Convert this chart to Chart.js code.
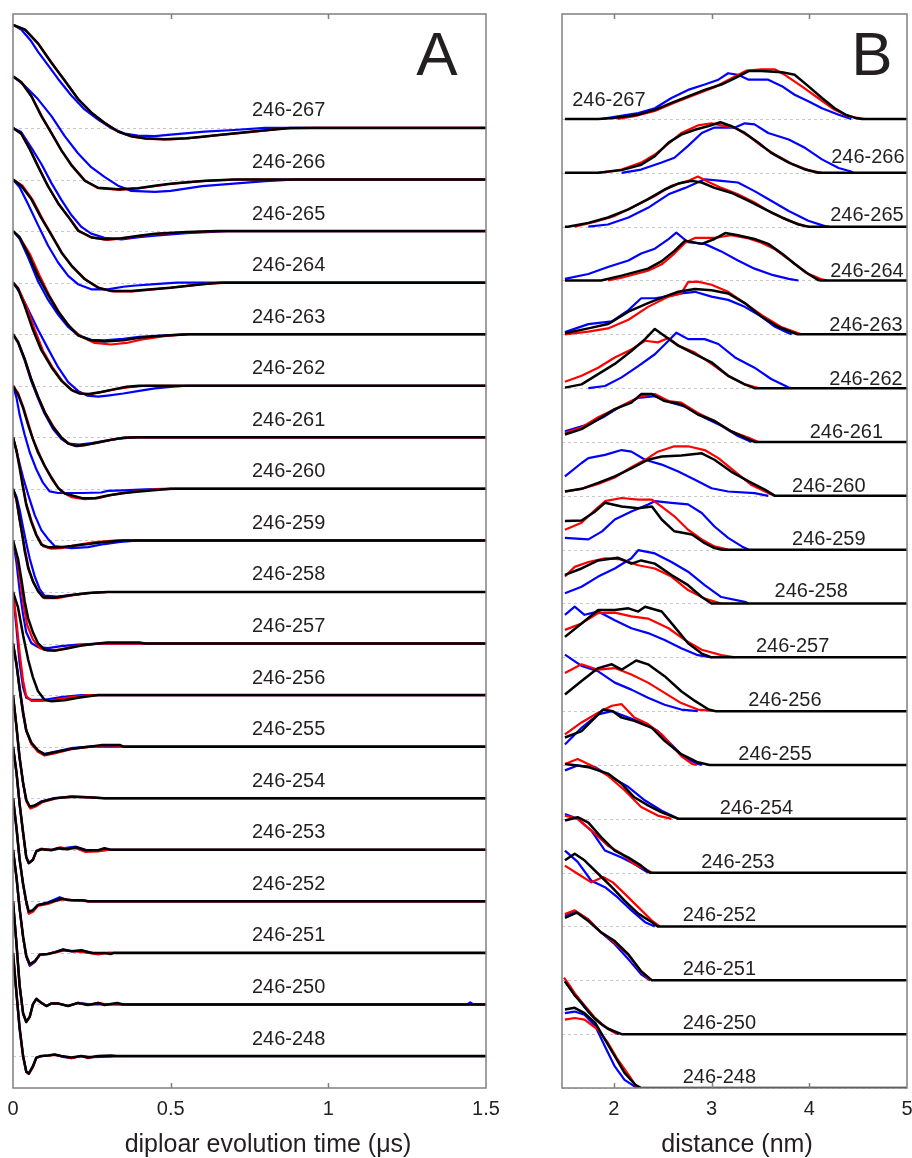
<!DOCTYPE html>
<html>
<head>
<meta charset="utf-8">
<script src="https://cdn.jsdelivr.net/npm/chart.js@4.4.1/dist/chart.umd.min.js"></script>
<style>
  html, body { margin: 0; padding: 0; background: #fff; }
  #wrap { position: relative; width: 912px; height: 1158px; overflow: hidden; }
  #wrap canvas { position: absolute; top: 0; }
</style>
</head>
<body>
<div id="wrap">
  <canvas id="chartA" width="530" height="1158" style="left:0"></canvas>
  <canvas id="chartB" width="400" height="1158" style="left:530px"></canvas>
</div>
<script>
// Spin-label pairs, top to bottom
const pairs = ['246-267','246-266','246-265','246-264','246-263','246-262','246-261','246-260','246-259',
  '246-258','246-257','246-256','246-255','246-254','246-253','246-252','246-251','246-250','246-248'];

// Axis ticks
const ticksA = [0, 0.5, 1, 1.5];
const tickTextA = ['0', '0.5', '1', '1.5'];
const ticksB = [2, 3, 4, 5];
const tickTextB = ['2', '3', '4', '5'];

// ---- Panel A: dipolar evolution traces, [time (us), normalised signal] ----
// k = black, r = red, b = blue
const a267k = [[0,2],[0.037,1.91],[0.079,1.64],[0.12,1.28],[0.164,0.92],[0.206,0.56],[0.248,0.3],[0.29,0.1],[0.333,-0.07],[0.375,-0.16],[0.418,-0.2],[0.48,-0.22],[0.55,-0.2],[0.6,-0.17],[0.645,-0.14],[0.76,-0.07],[0.88,0],[1.5,0]];
const a267r = [[0,2],[0.04,1.9],[0.08,1.64],[0.122,1.27],[0.166,0.9],[0.21,0.54],[0.25,0.29],[0.29,0.1],[0.335,-0.08],[0.38,-0.17],[0.42,-0.21],[0.5,-0.22],[0.56,-0.2],[0.65,-0.14],[0.75,-0.08],[0.86,-0.01],[0.95,0],[1.5,0]];
const a267b = [[0,2],[0.026,1.91],[0.058,1.68],[0.079,1.48],[0.111,1.22],[0.143,0.95],[0.185,0.63],[0.227,0.36],[0.27,0.16],[0.31,0],[0.354,-0.11],[0.396,-0.15],[0.45,-0.16],[0.5,-0.13],[0.555,-0.1],[0.608,-0.07],[0.7,-0.04],[0.8,0],[1.5,0]];

const a266k = [[0,2],[0.026,1.89],[0.058,1.62],[0.09,1.23],[0.122,0.9],[0.153,0.57],[0.185,0.28],[0.227,-0.02],[0.27,-0.16],[0.333,-0.19],[0.396,-0.17],[0.45,-0.12],[0.5,-0.08],[0.6,-0.03],[0.7,0],[1.5,0]];
const a266r = [[0,2],[0.028,1.88],[0.06,1.6],[0.092,1.22],[0.124,0.88],[0.155,0.55],[0.187,0.27],[0.23,-0.03],[0.27,-0.17],[0.34,-0.2],[0.4,-0.17],[0.46,-0.12],[0.52,-0.07],[0.62,-0.02],[0.72,0],[1.5,0]];
const a266b = [[0,2],[0.037,1.82],[0.079,1.56],[0.122,1.23],[0.164,0.84],[0.206,0.51],[0.248,0.24],[0.29,0.05],[0.333,-0.12],[0.375,-0.22],[0.45,-0.24],[0.5,-0.22],[0.6,-0.13],[0.7,-0.08],[0.8,-0.03],[0.9,0],[1.5,0]];

const a265k = [[0,2],[0.026,1.89],[0.053,1.59],[0.079,1.26],[0.111,0.87],[0.143,0.54],[0.175,0.28],[0.206,0.01],[0.248,-0.12],[0.29,-0.16],[0.344,-0.14],[0.4,-0.09],[0.45,-0.05],[0.55,-0.02],[0.65,0],[1.5,0]];
const a265r = [[0,2],[0.028,1.88],[0.055,1.58],[0.081,1.24],[0.113,0.85],[0.145,0.52],[0.178,0.26],[0.21,0],[0.25,-0.13],[0.3,-0.17],[0.35,-0.14],[0.41,-0.09],[0.47,-0.05],[0.57,-0.02],[0.65,0],[1.5,0]];
const a265b = [[0,2],[0.026,1.92],[0.058,1.62],[0.09,1.3],[0.122,0.93],[0.153,0.61],[0.185,0.31],[0.217,0.08],[0.248,-0.05],[0.29,-0.13],[0.344,-0.16],[0.4,-0.12],[0.45,-0.09],[0.55,-0.04],[0.68,0],[1.5,0]];

const a264k = [[0,2],[0.026,1.88],[0.058,1.62],[0.09,1.25],[0.122,0.92],[0.153,0.59],[0.185,0.33],[0.227,0.07],[0.27,-0.1],[0.31,-0.16],[0.375,-0.16],[0.42,-0.14],[0.5,-0.1],[0.6,-0.03],[0.66,0],[1.5,0]];
const a264r = [[0,2],[0.03,1.88],[0.063,1.6],[0.095,1.22],[0.127,0.88],[0.158,0.55],[0.19,0.3],[0.232,0.05],[0.275,-0.11],[0.32,-0.17],[0.38,-0.17],[0.43,-0.14],[0.51,-0.09],[0.6,-0.03],[0.68,0],[1.5,0]];
const a264b = [[0,2],[0.021,1.85],[0.048,1.52],[0.079,1.12],[0.111,0.72],[0.143,0.39],[0.175,0.13],[0.206,-0.03],[0.248,-0.13],[0.3,-0.13],[0.35,-0.08],[0.38,-0.06],[0.45,-0.03],[0.52,0],[1.5,0]];

const a263k = [[0,2],[0.021,1.88],[0.048,1.56],[0.079,1.13],[0.111,0.77],[0.143,0.44],[0.175,0.18],[0.206,-0.02],[0.248,-0.12],[0.29,-0.14],[0.35,-0.12],[0.4,-0.07],[0.45,-0.04],[0.5,-0.02],[0.56,0],[1.5,0]];
const a263r = [[0,2],[0.021,1.88],[0.053,1.56],[0.085,1.13],[0.116,0.74],[0.148,0.41],[0.18,0.14],[0.217,-0.05],[0.259,-0.17],[0.31,-0.2],[0.36,-0.17],[0.41,-0.1],[0.48,-0.04],[0.55,0],[1.5,0]];
const a263b = [[0,2],[0.021,1.85],[0.048,1.49],[0.079,1.03],[0.111,0.67],[0.143,0.38],[0.175,0.14],[0.206,-0.02],[0.248,-0.11],[0.29,-0.12],[0.35,-0.09],[0.4,-0.05],[0.5,-0.02],[0.56,0],[1.5,0]];

const a262k = [[0,2],[0.016,1.88],[0.037,1.55],[0.063,1.09],[0.09,0.69],[0.122,0.36],[0.153,0.1],[0.185,-0.08],[0.21,-0.15],[0.24,-0.16],[0.28,-0.12],[0.32,-0.07],[0.36,-0.02],[0.4,0],[1.5,0]];
const a262r = [[0,2],[0.016,1.9],[0.042,1.55],[0.069,1.09],[0.095,0.68],[0.127,0.34],[0.158,0.08],[0.19,-0.1],[0.22,-0.16],[0.25,-0.16],[0.29,-0.11],[0.33,-0.06],[0.38,-0.02],[0.42,0],[1.5,0]];
const a262b = [[0,2],[0.021,1.81],[0.048,1.48],[0.079,1.09],[0.111,0.72],[0.143,0.36],[0.175,0.07],[0.206,-0.1],[0.235,-0.19],[0.27,-0.21],[0.3,-0.19],[0.35,-0.15],[0.4,-0.1],[0.45,-0.05],[0.5,-0.02],[0.55,0],[1.5,0]];

const a261k = [[0,2],[0.016,1.85],[0.037,1.52],[0.058,1.12],[0.079,0.79],[0.1,0.49],[0.127,0.2],[0.153,0],[0.175,-0.12],[0.2,-0.17],[0.227,-0.15],[0.27,-0.1],[0.31,-0.05],[0.35,-0.01],[0.4,0],[1.5,0]];
const a261r = [[0,2],[0.017,1.84],[0.038,1.5],[0.06,1.1],[0.08,0.78],[0.102,0.48],[0.13,0.19],[0.155,-0.01],[0.18,-0.13],[0.205,-0.17],[0.23,-0.15],[0.27,-0.1],[0.32,-0.04],[0.36,0],[1.5,0]];
const a261b = [[0,2],[0.016,1.83],[0.037,1.49],[0.058,1.09],[0.079,0.76],[0.1,0.46],[0.127,0.16],[0.153,-0.03],[0.175,-0.12],[0.21,-0.14],[0.25,-0.11],[0.29,-0.07],[0.33,-0.03],[0.38,0],[1.5,0]];

const a260k = [[0,2],[0.016,1.83],[0.032,1.57],[0.048,1.24],[0.063,0.97],[0.079,0.71],[0.1,0.45],[0.122,0.22],[0.143,0.02],[0.164,-0.09],[0.196,-0.14],[0.22,-0.18],[0.26,-0.18],[0.3,-0.13],[0.35,-0.08],[0.4,-0.05],[0.5,0],[1.5,0]];
const a260r = [[0,2],[0.016,1.86],[0.032,1.6],[0.048,1.28],[0.063,0.97],[0.079,0.74],[0.1,0.45],[0.127,0.15],[0.153,-0.05],[0.185,-0.16],[0.227,-0.2],[0.27,-0.18],[0.32,-0.11],[0.38,-0.06],[0.45,-0.01],[0.52,0],[1.5,0]];
const a260b = [[0,2],[0.011,1.77],[0.021,1.44],[0.037,1.05],[0.053,0.71],[0.074,0.38],[0.095,0.12],[0.116,-0.05],[0.143,-0.08],[0.22,-0.08],[0.28,-0.07],[0.3,-0.04],[0.35,-0.03],[0.42,-0.01],[0.48,0],[1.5,0]];

const a259k = [[0,2],[0.011,1.74],[0.021,1.41],[0.032,1.02],[0.042,0.69],[0.058,0.36],[0.074,0.1],[0.09,-0.08],[0.111,-0.13],[0.15,-0.13],[0.185,-0.11],[0.238,-0.07],[0.29,-0.03],[0.35,0],[1.5,0]];
const a259r = [[0,2],[0.011,1.76],[0.021,1.45],[0.032,1.05],[0.042,0.72],[0.058,0.39],[0.074,0.12],[0.095,-0.11],[0.122,-0.16],[0.153,-0.15],[0.2,-0.09],[0.26,-0.03],[0.33,0],[1.5,0]];
const a259b = [[0,2],[0.016,1.61],[0.032,1.22],[0.048,0.89],[0.069,0.49],[0.09,0.2],[0.111,0.03],[0.132,-0.11],[0.185,-0.15],[0.238,-0.13],[0.29,-0.07],[0.34,-0.03],[0.4,0],[1.5,0]];

const a258k = [[0,2],[0.011,1.8],[0.021,1.41],[0.032,1.02],[0.037,0.8],[0.048,0.47],[0.063,0.21],[0.079,0.02],[0.095,-0.1],[0.13,-0.11],[0.185,-0.06],[0.238,-0.02],[0.3,0],[1.5,0]];
const a258r = [[0,2],[0.011,1.78],[0.021,1.4],[0.032,1.0],[0.04,0.76],[0.05,0.44],[0.065,0.18],[0.082,0],[0.1,-0.12],[0.14,-0.12],[0.19,-0.06],[0.24,-0.02],[0.3,0],[1.5,0]];
const a258b = [[0,2],[0.011,1.85],[0.021,1.6],[0.032,1.25],[0.042,0.95],[0.053,0.65],[0.069,0.3],[0.085,0.05],[0.1,-0.07],[0.14,-0.09],[0.2,-0.05],[0.26,-0.01],[0.3,0],[1.5,0]];

const a257k = [[0,2],[0.016,1.64],[0.027,1.23],[0.037,0.82],[0.048,0.49],[0.063,0.22],[0.079,0.01],[0.1,-0.12],[0.132,-0.14],[0.175,-0.09],[0.217,-0.04],[0.27,0],[0.3,0.02],[0.4,0.02],[0.42,0],[1.5,0]];
const a257r = [[0,2],[0.014,1.64],[0.024,1.17],[0.035,0.7],[0.045,0.36],[0.063,0.08],[0.085,-0.09],[0.111,-0.14],[0.153,-0.11],[0.206,-0.04],[0.27,0],[1.5,0]];
const a257b = [[0,2],[0.011,1.57],[0.021,1.03],[0.032,0.56],[0.042,0.22],[0.058,0.01],[0.079,-0.07],[0.111,-0.09],[0.153,-0.05],[0.206,-0.02],[0.27,0],[1.5,0]];

const a256k = [[0,2],[0.016,1.7],[0.032,1.16],[0.048,0.69],[0.063,0.35],[0.079,0.08],[0.1,-0.09],[0.122,-0.12],[0.164,-0.1],[0.206,-0.05],[0.27,0],[1.5,0]];
const a256r = [[0,2],[0.011,1.43],[0.021,0.82],[0.032,0.28],[0.042,-0.02],[0.058,-0.11],[0.09,-0.11],[0.132,-0.09],[0.185,-0.04],[0.24,0],[1.5,0]];
const a256b = [[0,2],[0.011,1.3],[0.021,0.62],[0.032,0.15],[0.042,-0.05],[0.058,-0.09],[0.1,-0.09],[0.153,-0.04],[0.217,0],[1.5,0]];

const a255k = [[0,2],[0.011,1.6],[0.021,1.13],[0.032,0.66],[0.042,0.32],[0.058,0.08],[0.079,-0.07],[0.1,-0.15],[0.132,-0.11],[0.185,-0.04],[0.24,0],[0.28,0.03],[0.34,0.03],[0.35,0],[1.5,0]];
const a255r = [[0,2],[0.011,1.63],[0.021,1.16],[0.032,0.7],[0.042,0.32],[0.058,0.05],[0.079,-0.1],[0.1,-0.17],[0.132,-0.13],[0.185,-0.05],[0.25,0],[0.29,0.03],[0.33,0.02],[0.35,0],[1.5,0]];
const a255b = [[0,2],[0.011,1.58],[0.021,1.1],[0.032,0.63],[0.042,0.3],[0.058,0.06],[0.079,-0.08],[0.1,-0.14],[0.132,-0.1],[0.185,-0.03],[0.24,0],[1.5,0]];

const a254k = [[0,2],[0.011,1.39],[0.021,0.78],[0.032,0.3],[0.042,-0.03],[0.053,-0.16],[0.069,-0.14],[0.09,-0.07],[0.132,0],[0.185,0.03],[0.238,0.02],[0.29,0],[1.5,0]];
const a254r = [[0,2],[0.011,1.4],[0.021,0.8],[0.032,0.3],[0.042,-0.06],[0.055,-0.2],[0.072,-0.16],[0.095,-0.07],[0.14,0],[0.19,0.03],[0.25,0.01],[0.29,0],[1.5,0]];
const a254b = [[0,2],[0.011,1.38],[0.021,0.77],[0.032,0.29],[0.042,-0.04],[0.053,-0.17],[0.07,-0.14],[0.09,-0.06],[0.13,0],[0.18,0.03],[0.24,0.02],[0.29,0],[1.5,0]];

const a253k = [[0,2],[0.011,1.5],[0.021,0.89],[0.032,0.34],[0.042,-0.14],[0.05,-0.26],[0.063,-0.2],[0.074,-0.03],[0.09,0.01],[0.122,-0.01],[0.143,0.03],[0.17,0.01],[0.2,0.05],[0.23,-0.01],[0.27,-0.01],[0.29,0.03],[0.31,0],[1.5,0]];
const a253r = [[0,2],[0.011,1.52],[0.021,0.9],[0.032,0.33],[0.042,-0.15],[0.05,-0.26],[0.063,-0.19],[0.074,-0.03],[0.09,0.02],[0.122,0],[0.15,0.05],[0.175,0.02],[0.2,0.03],[0.23,-0.04],[0.27,-0.03],[0.3,0],[1.5,0]];
const a253b = [[0,2],[0.011,1.49],[0.021,0.87],[0.032,0.33],[0.042,-0.14],[0.05,-0.25],[0.063,-0.19],[0.074,-0.02],[0.09,0.02],[0.122,0],[0.143,0.02],[0.2,0.06],[0.23,0],[0.27,-0.01],[0.3,0],[1.5,0]];

const a252k = [[0,2],[0.011,1.42],[0.021,0.81],[0.032,0.34],[0.042,0],[0.05,-0.2],[0.063,-0.17],[0.079,-0.07],[0.111,-0.03],[0.132,0.01],[0.153,0.05],[0.185,0.02],[0.22,0.02],[0.24,0],[1.5,0]];
const a252r = [[0,2],[0.011,1.45],[0.021,0.84],[0.032,0.32],[0.042,-0.03],[0.05,-0.24],[0.063,-0.2],[0.079,-0.09],[0.111,-0.05],[0.132,0],[0.16,0.04],[0.2,0.02],[0.24,0],[1.5,0]];
const a252b = [[0,2],[0.011,1.41],[0.021,0.8],[0.032,0.33],[0.042,-0.02],[0.05,-0.22],[0.063,-0.18],[0.079,-0.07],[0.111,-0.02],[0.13,0.03],[0.148,0.08],[0.17,0.03],[0.22,0.02],[0.24,0],[1.5,0]];

const a251k = [[0,2],[0.011,1.47],[0.021,0.86],[0.032,0.32],[0.042,-0.05],[0.053,-0.22],[0.069,-0.16],[0.085,-0.03],[0.111,-0.02],[0.132,0.01],[0.159,0.06],[0.185,0.03],[0.217,0.05],[0.25,0],[0.29,0],[0.31,-0.02],[0.32,0],[1.5,0]];
const a251r = [[0,2],[0.011,1.48],[0.021,0.86],[0.032,0.3],[0.042,-0.07],[0.053,-0.23],[0.069,-0.17],[0.085,-0.04],[0.111,-0.02],[0.14,0.02],[0.165,0.05],[0.2,0.03],[0.24,0],[0.27,-0.03],[0.3,0],[1.5,0]];
const a251b = [[0,2],[0.011,1.46],[0.021,0.85],[0.032,0.3],[0.042,-0.07],[0.053,-0.25],[0.069,-0.18],[0.085,-0.04],[0.111,-0.02],[0.14,0.03],[0.159,0.07],[0.19,0.03],[0.22,0.04],[0.26,-0.01],[0.3,0],[1.5,0]];

const a250k = [[0,2],[0.011,1.18],[0.021,0.37],[0.032,-0.17],[0.042,-0.34],[0.053,-0.24],[0.063,0],[0.074,0.11],[0.09,0.03],[0.106,-0.03],[0.122,0.02],[0.143,0.02],[0.175,-0.03],[0.206,0.03],[0.238,-0.01],[0.27,0.03],[0.29,-0.01],[0.33,0.03],[0.35,0],[1.5,0]];
const a250r = [[0,2],[0.011,1.2],[0.021,0.38],[0.032,-0.17],[0.042,-0.33],[0.053,-0.24],[0.063,0],[0.074,0.1],[0.09,0.03],[0.106,-0.03],[0.122,0.02],[0.143,0.02],[0.175,-0.03],[0.206,0.03],[0.238,-0.01],[0.27,0.03],[0.3,0],[1.5,0]];
const a250b = [[0,2],[0.011,1.17],[0.021,0.36],[0.032,-0.18],[0.042,-0.34],[0.053,-0.24],[0.063,0],[0.074,0.11],[0.09,0.03],[0.106,-0.03],[0.122,0.02],[0.143,0.02],[0.175,-0.03],[0.206,0.03],[0.25,0],[1.44,0],[1.45,0.04],[1.46,0],[1.5,0]];

const a248k = [[0,2],[0.011,1.22],[0.021,0.54],[0.032,0],[0.042,-0.3],[0.05,-0.34],[0.063,-0.2],[0.074,-0.03],[0.09,0],[0.111,0.01],[0.132,0.03],[0.153,0],[0.185,-0.03],[0.217,0],[0.238,-0.03],[0.27,0],[0.31,0.01],[0.33,0],[1.5,0]];
const a248r = [[0,2],[0.011,1.24],[0.021,0.56],[0.032,0.01],[0.042,-0.3],[0.05,-0.35],[0.063,-0.22],[0.074,-0.04],[0.09,0],[0.111,0.01],[0.132,0.02],[0.153,0],[0.185,-0.04],[0.217,0],[0.238,-0.04],[0.27,0],[0.3,0],[1.5,0]];
const a248b = [[0,2],[0.011,1.2],[0.021,0.52],[0.032,-0.01],[0.042,-0.31],[0.05,-0.34],[0.063,-0.2],[0.074,-0.03],[0.09,0],[0.111,0.01],[0.132,0.03],[0.153,-0.01],[0.185,-0.04],[0.217,0],[0.25,-0.02],[0.31,-0.01],[0.33,0],[1.5,0]];

// ---- Panel B: distance distributions, [distance (nm), normalised probability] ----
const b267k = [[1.5,0],[1.84,0],[2.0,0.02],[2.25,0.08],[2.42,0.17],[2.59,0.3],[2.76,0.42],[2.93,0.54],[3.1,0.64],[3.24,0.76],[3.38,0.89],[3.51,0.89],[3.72,0.87],[3.85,0.82],[3.99,0.61],[4.13,0.39],[4.26,0.2],[4.37,0.08],[4.47,0.02],[4.54,0],[5,0]];
const b267r = [[2.04,0],[2.21,0.05],[2.42,0.15],[2.62,0.3],[2.83,0.45],[3.03,0.59],[3.24,0.79],[3.36,0.9],[3.51,0.92],[3.65,0.92],[3.75,0.82],[3.92,0.61],[4.09,0.39],[4.26,0.17],[4.4,0.05],[4.57,0]];
const b267b = [[1.87,0],[2.04,0.05],[2.25,0.11],[2.42,0.2],[2.59,0.39],[2.76,0.54],[2.93,0.64],[3.07,0.73],[3.17,0.85],[3.27,0.82],[3.38,0.73],[3.58,0.73],[3.72,0.61],[3.85,0.45],[3.99,0.33],[4.13,0.2],[4.3,0.08],[4.43,0]];

const b266k = [[1.5,0],[1.84,0],[2.08,0.05],[2.28,0.15],[2.42,0.31],[2.56,0.56],[2.69,0.71],[2.83,0.8],[2.97,0.87],[3.09,0.94],[3.2,0.87],[3.34,0.74],[3.48,0.56],[3.61,0.37],[3.79,0.19],[3.96,0.06],[4.09,0],[5,0]];
const b266r = [[1.84,0],[2.08,0.06],[2.28,0.19],[2.42,0.34],[2.56,0.54],[2.69,0.74],[2.86,0.88],[3.0,0.92],[3.1,0.88],[3.24,0.84],[3.38,0.68],[3.51,0.5],[3.65,0.34],[3.82,0.17],[3.99,0.05],[4.13,0]];
const b266b = [[2.08,0],[2.28,0.06],[2.49,0.19],[2.62,0.28],[2.76,0.5],[2.9,0.74],[3.03,0.84],[3.24,0.84],[3.34,0.92],[3.44,0.9],[3.58,0.74],[3.79,0.62],[3.96,0.46],[4.13,0.25],[4.3,0.09],[4.42,0.03],[4.45,0]];

const b265k = [[1.5,0],[1.53,0],[1.74,0.07],[1.94,0.17],[2.15,0.32],[2.35,0.51],[2.52,0.69],[2.66,0.8],[2.8,0.85],[2.9,0.82],[3.03,0.72],[3.2,0.63],[3.38,0.48],[3.55,0.32],[3.72,0.17],[3.89,0.04],[3.99,0],[5,0]];
const b265r = [[1.6,0],[1.81,0.09],[2.01,0.2],[2.21,0.38],[2.42,0.57],[2.59,0.76],[2.76,0.85],[2.86,0.93],[2.97,0.83],[3.1,0.72],[3.27,0.6],[3.44,0.45],[3.61,0.26],[3.79,0.11],[3.96,0.01],[4.0,0]];
const b265b = [[1.74,0],[1.94,0.04],[2.15,0.17],[2.35,0.35],[2.56,0.6],[2.73,0.72],[2.93,0.88],[3.1,0.85],[3.27,0.82],[3.44,0.66],[3.61,0.48],[3.79,0.29],[3.99,0.11],[4.16,0.01],[4.2,0]];

const b264k = [[1.5,0],[1.87,0],[2.08,0.09],[2.35,0.22],[2.49,0.36],[2.62,0.55],[2.73,0.74],[2.9,0.68],[3.03,0.77],[3.14,0.88],[3.27,0.84],[3.44,0.77],[3.58,0.68],[3.72,0.5],[3.85,0.31],[3.99,0.12],[4.09,0.01],[4.12,0],[5,0]];
const b264r = [[1.94,0],[2.08,0.05],[2.35,0.18],[2.49,0.3],[2.62,0.5],[2.73,0.7],[2.83,0.79],[3.03,0.79],[3.2,0.84],[3.38,0.78],[3.51,0.7],[3.65,0.58],[3.8,0.38],[3.96,0.15],[4.13,0.02],[4.18,0]];
const b264b = [[1.5,0.03],[1.74,0.12],[1.94,0.25],[2.15,0.37],[2.28,0.5],[2.42,0.59],[2.56,0.77],[2.64,0.89],[2.76,0.71],[2.93,0.68],[3.1,0.54],[3.27,0.37],[3.44,0.22],[3.61,0.11],[3.79,0.03],[3.89,0]];

const b263k = [[1.5,0.02],[1.74,0.11],[1.94,0.19],[2.15,0.42],[2.35,0.58],[2.52,0.7],[2.66,0.79],[2.83,0.84],[3.0,0.82],[3.17,0.76],[3.34,0.58],[3.51,0.33],[3.68,0.14],[3.85,0.02],[3.88,0],[5,0]];
const b263r = [[1.5,0],[1.74,0.05],[1.94,0.11],[2.15,0.27],[2.35,0.51],[2.56,0.7],[2.69,0.76],[2.76,0.97],[2.86,0.98],[3.0,0.92],[3.17,0.79],[3.34,0.58],[3.51,0.36],[3.72,0.13],[3.89,0.02],[3.92,0]];
const b263b = [[1.5,0.04],[1.74,0.19],[1.98,0.24],[2.15,0.45],[2.28,0.67],[2.42,0.67],[2.56,0.71],[2.69,0.76],[2.83,0.79],[3.0,0.7],[3.17,0.64],[3.34,0.51],[3.51,0.33],[3.65,0.14],[3.79,0.02],[3.82,0]];

const b262k = [[1.5,0.01],[1.67,0.07],[1.84,0.26],[2.01,0.45],[2.18,0.69],[2.32,0.91],[2.42,1.1],[2.52,0.97],[2.66,0.79],[2.83,0.63],[3.0,0.48],[3.17,0.23],[3.34,0.07],[3.44,0],[5,0]];
const b262r = [[1.5,0.12],[1.67,0.23],[1.84,0.38],[2.01,0.57],[2.18,0.72],[2.32,0.88],[2.45,0.85],[2.56,0.93],[2.66,0.79],[2.83,0.66],[3.0,0.45],[3.17,0.23],[3.34,0.07],[3.48,0]];
const b262b = [[1.74,0],[1.91,0.04],[2.08,0.2],[2.25,0.41],[2.42,0.63],[2.56,0.88],[2.64,1.03],[2.76,0.91],[2.93,0.91],[3.07,0.82],[3.24,0.57],[3.44,0.38],[3.61,0.17],[3.79,0.01],[3.82,0]];

const b261k = [[1.5,0.14],[1.67,0.24],[1.84,0.42],[2.01,0.61],[2.18,0.73],[2.28,0.89],[2.39,0.89],[2.52,0.76],[2.69,0.7],[2.86,0.51],[3.03,0.39],[3.2,0.2],[3.38,0.05],[3.44,0],[5,0]];
const b261r = [[1.5,0.17],[1.67,0.27],[1.84,0.46],[2.01,0.61],[2.18,0.76],[2.28,0.85],[2.42,0.89],[2.56,0.76],[2.69,0.73],[2.86,0.54],[3.03,0.39],[3.2,0.2],[3.38,0.08],[3.48,0]];
const b261b = [[1.5,0.2],[1.74,0.33],[1.91,0.48],[2.08,0.67],[2.25,0.82],[2.42,0.85],[2.59,0.73],[2.76,0.64],[2.93,0.45],[3.1,0.3],[3.27,0.11],[3.41,0]];

const b260k = [[1.5,0.08],[1.67,0.13],[1.84,0.24],[2.01,0.36],[2.18,0.51],[2.35,0.67],[2.49,0.73],[2.69,0.75],[2.9,0.79],[3.03,0.67],[3.2,0.45],[3.38,0.27],[3.55,0.11],[3.65,0],[5,0]];
const b260r = [[1.5,0.08],[1.67,0.13],[1.84,0.22],[2.01,0.34],[2.18,0.53],[2.35,0.7],[2.45,0.82],[2.62,0.92],[2.76,0.92],[2.93,0.85],[3.07,0.7],[3.24,0.45],[3.41,0.2],[3.58,0.05],[3.65,0]];
const b260b = [[1.5,0.36],[1.67,0.61],[1.74,0.7],[1.91,0.76],[2.08,0.85],[2.18,0.82],[2.32,0.67],[2.49,0.58],[2.66,0.45],[2.83,0.3],[3.0,0.14],[3.17,0.08],[3.44,0.05],[3.58,0]];

const b259k = [[1.5,0.53],[1.67,0.54],[1.81,0.71],[1.91,0.87],[2.08,0.8],[2.25,0.77],[2.39,0.8],[2.49,0.56],[2.62,0.34],[2.8,0.28],[2.93,0.12],[3.03,0.03],[3.1,0],[5,0]];
const b259r = [[1.5,0.37],[1.67,0.5],[1.81,0.74],[1.91,0.9],[2.08,0.96],[2.25,0.93],[2.39,0.93],[2.49,0.8],[2.62,0.62],[2.76,0.37],[2.9,0.19],[3.03,0.06],[3.17,0]];
const b259b = [[1.5,0.22],[1.74,0.19],[1.88,0.34],[2.01,0.56],[2.18,0.71],[2.35,0.84],[2.42,0.9],[2.59,0.87],[2.76,0.84],[2.9,0.68],[3.03,0.43],[3.17,0.22],[3.31,0.06],[3.38,0]];

const b258k = [[1.5,0.53],[1.67,0.65],[1.84,0.8],[2.04,0.85],[2.18,0.74],[2.28,0.8],[2.42,0.74],[2.59,0.53],[2.76,0.34],[2.9,0.12],[3.0,0],[5,0]];
const b258r = [[1.5,0.5],[1.6,0.68],[1.74,0.77],[1.91,0.84],[2.08,0.82],[2.25,0.71],[2.42,0.65],[2.59,0.5],[2.76,0.25],[2.93,0.09],[3.1,0]];
const b258b = [[1.5,0.19],[1.67,0.31],[1.84,0.5],[2.01,0.65],[2.18,0.84],[2.25,0.99],[2.42,0.93],[2.59,0.77],[2.76,0.59],[2.93,0.34],[3.1,0.12],[3.34,0.03],[3.38,0]];

const b257k = [[1.5,0.38],[1.67,0.63],[1.84,0.88],[2.01,0.88],[2.15,0.91],[2.25,0.85],[2.32,0.94],[2.49,0.85],[2.62,0.57],[2.76,0.26],[2.9,0.07],[3.0,0],[5,0]];
const b257r = [[1.5,0.51],[1.67,0.63],[1.84,0.82],[2.01,0.83],[2.18,0.76],[2.35,0.72],[2.56,0.54],[2.73,0.32],[2.9,0.14],[3.1,0.04],[3.24,0]];
const b257b = [[1.5,0.79],[1.6,0.94],[1.7,0.79],[1.84,0.85],[2.01,0.69],[2.18,0.54],[2.35,0.45],[2.52,0.32],[2.69,0.17],[2.86,0.04],[3.0,0]];

const b256k = [[1.5,0.31],[1.67,0.56],[1.84,0.8],[1.98,0.87],[2.08,0.77],[2.23,0.94],[2.35,0.87],[2.52,0.65],[2.69,0.37],[2.83,0.19],[2.97,0.03],[3.04,0],[5,0]];
const b256r = [[1.5,0.71],[1.67,0.87],[1.84,0.77],[2.01,0.8],[2.18,0.68],[2.35,0.53],[2.52,0.34],[2.69,0.15],[2.86,0.03],[3.04,0]];
const b256b = [[1.5,1.05],[1.67,0.84],[1.84,0.74],[2.01,0.53],[2.18,0.4],[2.35,0.25],[2.52,0.12],[2.69,0.03],[2.86,0]];

const b255k = [[1.5,0.51],[1.67,0.63],[1.89,1.03],[1.99,1.0],[2.08,0.88],[2.21,0.82],[2.39,0.69],[2.52,0.45],[2.69,0.2],[2.86,0.05],[2.98,0],[5,0]];
const b255r = [[1.5,0.57],[1.67,0.79],[1.84,0.97],[1.98,1.1],[2.08,1.13],[2.21,0.88],[2.35,0.76],[2.49,0.57],[2.6,0.35],[2.7,0.15],[2.8,0.02],[2.85,0]];
const b255b = [[1.5,0.38],[1.67,0.69],[1.84,0.94],[1.98,1.0],[2.15,0.88],[2.32,0.76],[2.45,0.63],[2.59,0.38],[2.72,0.14],[2.86,0.02],[2.9,0]];

const b254k = [[1.5,1.02],[1.63,0.99],[1.74,0.96],[1.94,0.84],[2.08,0.65],[2.21,0.4],[2.35,0.25],[2.49,0.12],[2.62,0.03],[2.66,0],[5,0]];
const b254r = [[1.5,1.02],[1.63,1.11],[1.77,0.99],[1.94,0.8],[2.11,0.53],[2.28,0.22],[2.45,0.06],[2.59,0]];
const b254b = [[1.5,0.9],[1.63,0.99],[1.81,0.96],[1.98,0.77],[2.15,0.59],[2.32,0.34],[2.49,0.15],[2.66,0]];

const b253k = [[1.5,0.97],[1.63,1.03],[1.74,0.93],[1.87,0.66],[2.01,0.41],[2.15,0.28],[2.28,0.13],[2.37,0],[5,0]];
const b253r = [[1.5,1.06],[1.63,1.0],[1.81,0.72],[1.94,0.5],[2.08,0.35],[2.21,0.16],[2.35,0.04],[2.39,0]];
const b253b = [[1.5,1.09],[1.63,1.0],[1.77,0.78],[1.91,0.41],[2.08,0.28],[2.21,0.16],[2.35,0]];

const b252k = [[1.5,1.23],[1.6,1.35],[1.7,1.23],[1.84,0.98],[1.98,0.73],[2.11,0.48],[2.25,0.24],[2.39,0.08],[2.45,0],[5,0]];
const b252r = [[1.5,1.13],[1.63,0.98],[1.77,0.82],[1.89,0.92],[1.99,0.82],[2.11,0.61],[2.25,0.36],[2.39,0.11],[2.47,0]];
const b252b = [[1.5,1.41],[1.63,1.2],[1.77,0.85],[1.91,0.73],[2.04,0.54],[2.18,0.3],[2.32,0.08],[2.42,0]];

const b251k = [[1.5,1.16],[1.62,1.26],[1.74,1.1],[1.87,0.89],[2.01,0.73],[2.15,0.48],[2.28,0.17],[2.39,0],[5,0]];
const b251r = [[1.5,1.23],[1.6,1.3],[1.74,1.13],[1.87,0.89],[2.01,0.7],[2.15,0.47],[2.28,0.16],[2.37,0]];
const b251b = [[1.5,1.2],[1.6,1.29],[1.74,1.13],[1.87,0.89],[2.01,0.67],[2.15,0.39],[2.28,0.11],[2.37,0]];

const b250k = [[1.5,0.98],[1.6,0.72],[1.68,0.56],[1.74,0.42],[1.8,0.3],[1.87,0.19],[1.94,0.1],[2.01,0.05],[2.08,0],[5,0]];
const b250r = [[1.49,1.05],[1.55,0.9],[1.6,0.76],[1.68,0.58],[1.74,0.45],[1.8,0.32],[1.87,0.2],[1.94,0.1],[2.03,0]];
const b250b = [[1.5,0.98],[1.6,0.74],[1.7,0.5],[1.8,0.3],[1.9,0.15],[2.0,0.05],[2.05,0]];

const b248k = [[1.5,1.46],[1.6,1.49],[1.7,1.39],[1.81,1.21],[1.91,0.9],[2.01,0.59],[2.11,0.28],[2.22,0.06],[2.28,0],[5,0]];
const b248r = [[1.5,1.27],[1.6,1.3],[1.7,1.27],[1.84,1.08],[1.94,0.84],[2.04,0.53],[2.15,0.25],[2.23,0.03],[2.25,0]];
const b248b = [[1.5,1.39],[1.6,1.42],[1.7,1.36],[1.81,1.15],[1.91,0.77],[2.01,0.4],[2.11,0.15],[2.22,0.02],[2.24,0]];

// Where each pair label sits in panel B (distance, height above its baseline)
const labelBx  = [1.95, 4.6, 4.59, 4.59, 4.58, 4.58, 4.38, 4.2, 4.2, 4.02, 3.83, 3.75, 3.65, 3.46, 3.27, 3.08, 3.08, 3.08, 3.08];
const labelBdy = [0.35, 0.28, 0.2, 0.17, 0.17, 0.17, 0.17, 0.17, 0.19, 0.22, 0.2, 0.19, 0.2, 0.2, 0.19, 0.2, 0.2, 0.2, 0.2];

// Trace tables (top to bottom) assembled from the arrays above
const tracesA = [
  [a267k,a267r,a267b],[a266k,a266r,a266b],[a265k,a265r,a265b],[a264k,a264r,a264b],[a263k,a263r,a263b],
  [a262k,a262r,a262b],[a261k,a261r,a261b],[a260k,a260r,a260b],[a259k,a259r,a259b],[a258k,a258r,a258b],
  [a257k,a257r,a257b],[a256k,a256r,a256b],[a255k,a255r,a255b],[a254k,a254r,a254b],[a253k,a253r,a253b],
  [a252k,a252r,a252b],[a251k,a251r,a251b],[a250k,a250r,a250b],[a248k,a248r,a248b]
];
const tracesB = [
  [b267k,b267r,b267b],[b266k,b266r,b266b],[b265k,b265r,b265b],[b264k,b264r,b264b],[b263k,b263r,b263b],
  [b262k,b262r,b262b],[b261k,b261r,b261b],[b260k,b260r,b260b],[b259k,b259r,b259b],[b258k,b258r,b258b],
  [b257k,b257r,b257b],[b256k,b256r,b256b],[b255k,b255r,b255b],[b254k,b254r,b254b],[b253k,b253r,b253b],
  [b252k,b252r,b252b],[b251k,b251r,b251b],[b250k,b250r,b250b],[b248k,b248r,b248b]
];

const FONT = '"Liberation Sans", Arial, Helvetica, sans-serif';
Chart.defaults.font.family = FONT;
Chart.defaults.color = '#231f20';

// Each trace is lifted onto its own baseline (bottom trace sits on 0)
function buildDatasets(traces) {
  const out = [];
  const n = traces.length;
  traces.forEach((trio, i) => {
    const base = n - 1 - i;
    const styles = [
      { color: '#000000', width: 2.5, order: 0 },
      { color: '#ff0000', width: 2.2, order: 1 },
      { color: '#0000ff', width: 2.2, order: 2 }
    ];
    trio.forEach((arr, j) => {
      out.push({
        data: arr.map(([x, v]) => ({ x: x, y: base + v })),
        borderColor: styles[j].color,
        borderWidth: styles[j].width,
        order: styles[j].order,
        pointRadius: 0,
        tension: 0,
        fill: false,
        borderJoinStyle: 'round',
        borderCapStyle: 'butt'
      });
    });
  });
  return out;
}

// Frame, inward ticks, dashed baselines, pair labels, panel letter and axis title
function decor(cfg) {
  return {
    id: 'decor',
    beforeDatasetsDraw(chart) {
      const { ctx, chartArea: a, scales } = chart;
      const y = scales.y;
      ctx.save();
      ctx.strokeStyle = '#c8c8c8';
      ctx.lineWidth = 1;
      ctx.setLineDash([3, 3]);
      for (let k = 0; k < pairs.length; k++) {
        const py = Math.round(y.getPixelForValue(k)) + 0.5;
        ctx.beginPath();
        ctx.moveTo(a.left, py);
        ctx.lineTo(a.right, py);
        ctx.stroke();
      }
      ctx.restore();
    },
    afterDatasetsDraw(chart) {
      const { ctx, chartArea: a, scales } = chart;
      const x = scales.x, y = scales.y;
      ctx.save();
      // frame
      ctx.strokeStyle = '#808080';
      ctx.lineWidth = 1.5;
      ctx.strokeRect(a.left, a.top, a.right - a.left, a.bottom - a.top);
      // inward tick marks, top and bottom
      ctx.beginPath();
      cfg.ticks.forEach(v => {
        if (v <= x.min || v >= x.max) return;
        const px = Math.round(x.getPixelForValue(v)) + 0.5;
        ctx.moveTo(px, a.top); ctx.lineTo(px, a.top + 5);
        ctx.moveTo(px, a.bottom); ctx.lineTo(px, a.bottom - 5);
      });
      ctx.stroke();
      // pair labels
      ctx.fillStyle = '#231f20';
      ctx.font = '20px ' + FONT;
      ctx.textAlign = 'center';
      ctx.textBaseline = 'middle';
      const n = pairs.length;
      pairs.forEach((p, i) => {
        const base = n - 1 - i;
        ctx.fillText(p, x.getPixelForValue(cfg.labelX(i)), y.getPixelForValue(base + cfg.labelDy(i)));
      });
      // panel letter
      ctx.font = '62px ' + FONT;
      ctx.textBaseline = 'alphabetic';
      ctx.fillText(cfg.letter, a.right - cfg.letterDx, a.top + 61);
      // axis title
      ctx.font = '25px ' + FONT;
      ctx.textBaseline = 'middle';
      ctx.fillText(cfg.title, cfg.titleX, cfg.titleY);
      ctx.restore();
    }
  };
}

function makeChart(id, traces, xr, yr, ticks, tickText, pad, cfg) {
  return new Chart(document.getElementById(id), {
    type: 'line',
    data: { datasets: buildDatasets(traces) },
    options: {
      responsive: false,
      animation: false,
      events: [],
      layout: { padding: pad },
      plugins: { legend: { display: false }, tooltip: { enabled: false } },
      scales: {
        x: {
          type: 'linear', min: xr[0], max: xr[1],
          grid: { display: false },
          border: { display: false },
          afterBuildTicks: s => { s.ticks = ticks.map(v => ({ value: v })); },
          afterFit: s => { s.height = 70; },
          ticks: {
            padding: 1,
            maxRotation: 0,
            autoSkip: false,
            font: { size: 20 },
            color: '#231f20',
            callback: (v, i) => tickText[i]
          }
        },
        y: { type: 'linear', min: yr[0], max: yr[1], display: false }
      }
    },
    plugins: [decor(cfg)]
  });
}

makeChart('chartA', tracesA, [0, 1.5], [-0.62, 20.21], ticksA, tickTextA,
  { left: 13, right: 44, top: 14, bottom: 0 },
  { ticks: ticksA, labelX: () => 0.874, labelDy: () => 0.33, letter: 'A', letterDx: 49,
    title: 'diploar evolution time (\u03bcs)', titleX: 268, titleY: 1145 });

makeChart('chartB', tracesB, [1.47, 5], [0, 19.95], ticksB, tickTextB,
  { left: 32, right: 23, top: 14, bottom: 0 },
  { ticks: ticksB, labelX: i => labelBx[i], labelDy: i => labelBdy[i], letter: 'B', letterDx: 35,
    title: 'distance (nm)', titleX: 207, titleY: 1145 });
</script>
</body>
</html>
